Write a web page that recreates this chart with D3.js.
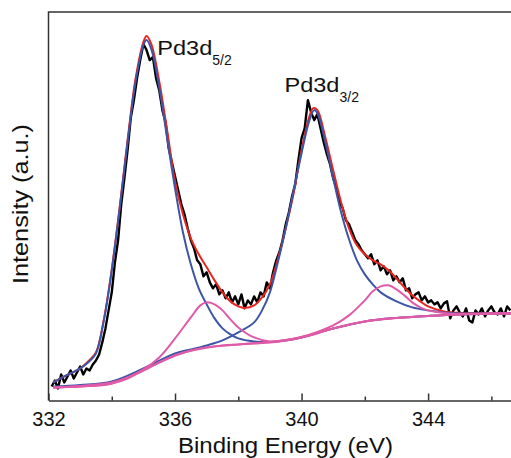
<!DOCTYPE html>
<html>
<head>
<meta charset="utf-8">
<script src="https://cdn.jsdelivr.net/npm/d3@7"></script>
<style>
  html, body { margin: 0; padding: 0; background: #fff; }
  svg { display: block; }
  text { font-family: "Liberation Sans", Arial, Helvetica, sans-serif; fill: #111; }
</style>
</head>
<body>
<svg id="chart" width="511" height="458"></svg>
<script>
// ---------------- DATA ----------------
const majorTicks = [332, 336, 340, 344];
const minorTicks = [334, 338, 342, 346];
const xTitle = "Binding Energy (eV)";
const yTitle = "Intensity (a.u.)";

// measured spectrum (black), sampled every 0.1 eV from 332.1 eV
const measStart = 332.1, measStep = 0.1;
const measured = [
  14, 20, 12, 26, 18, 24, 30, 22, 28, 34,
  26, 32, 30, 36, 40, 46, 58, 72, 90, 108,
  138, 160, 196, 222, 250, 282, 300, 322, 340, 356,
  350, 340, 343, 322, 310, 290, 278, 252, 238, 224,
  210, 196, 186, 172, 160, 152, 140, 136, 124, 128,
  118, 112, 116, 106, 110, 102, 108, 98, 104, 96,
  106, 92, 100, 96, 104, 98, 108, 104, 118, 112,
  128, 140, 148, 160, 176, 188, 204, 216, 240, 262,
  272, 300, 288, 280, 286, 272, 258, 246, 236, 222,
  212, 198, 192, 180, 176, 168, 160, 156, 150, 146,
  142, 146, 136, 140, 130, 134, 126, 130, 120, 124,
  118, 122, 110, 112, 102, 106, 108, 100, 104, 98,
  100, 96, 98, 92, 97, 99, 82, 90, 94, 88,
  84, 92, 80, 78, 90, 86, 92, 84, 90, 94,
  88, 86, 92, 84, 94, 90
];

// fitted components: [binding energy, intensity]
const shirleyBackground = [
  [332.15,13],[332.5,13.5],[333,14],[333.5,15],[334,17],[334.5,22],[335,30],[335.5,38],
  [336,45],[336.5,50],[337,53],[337.5,55],[338,56],[338.5,57],[339,58],[339.5,60],
  [340,63],[340.5,67],[341,72],[341.5,76],[342,79],[342.5,81],[343,82.5],[343.5,83.5],
  [344,84.5],[345,86],[346,86.8],[346.7,87]
];
const satellite1 = [
  [332.15,13],[333,14.5],[334,18],[334.5,23],[335,31],[335.5,43],[336,62],[336.5,83],
  [336.8,95],[337,98],[337.25,96],[337.5,90],[337.75,81],[338,73],[338.5,63],[339,59],
  [339.5,60.5],[340,63.5],[341,72],[342,79],[343,82.5],[344,84.5],[345,86],[346.7,87]
];
const satellite2 = [
  [332.15,13],[333,14],[334,17],[335,30],[336,45],[337,53],[338,56],[339,58.5],
  [339.5,60.5],[340,63.5],[340.5,68.5],[341,75],[341.5,85],[342,100],[342.25,109],
  [342.5,114],[342.75,115],[343,111],[343.25,105],[343.5,98],[343.75,93],[344,90],
  [344.5,87.5],[345,86.5],[346,87],[346.7,87.2]
];
const peak52 = [
  [332.15,18],[332.5,24],[333,32],[333.25,38],[333.5,47],[333.75,80],[334,130],[334.25,192],
  [334.5,258],[334.75,318],[335,355],[335.1,360],[335.25,351],[335.5,313],[335.75,262],
  [336,212],[336.25,168],[336.5,136],[336.75,112],[337,96],[337.25,82],[337.5,72],
  [337.75,66],[338,62],[338.5,59],[339,58.5],[339.5,60],[340,63],[341,72],[342,79],
  [343,82.5],[344,84.5],[345,86],[346.7,87]
];
const peak32 = [
  [332.15,14],[333,15.5],[334,19],[335,32],[336,47],[336.5,51],[337,55],[337.5,60],
  [338,68],[338.5,78],[338.75,90],[339,108],[339.25,138],[339.5,172],[339.75,210],
  [340,247],[340.25,280],[340.4,290],[340.5,287],[340.75,258],[341,222],[341.25,188],
  [341.5,161],[341.75,140],[342,126],[342.25,116],[342.5,108],[343,99],[343.5,93],
  [344,90],[344.5,88],[345,87],[346,87],[346.7,87.2]
];
const envelope = [
  [332.15,18],[332.5,24],[333,32],[333.25,39],[333.5,48],[333.75,81],[334,131],[334.25,193],
  [334.5,260],[334.75,321],[335,358],[335.1,364],[335.25,356],[335.5,319],[335.75,270],
  [336,219],[336.25,186],[336.5,162],[336.75,146],[337,133],[337.25,120],[337.5,108],
  [337.75,99],[338,94],[338.2,92.5],[338.5,95],[338.75,103],[339,116],[339.25,141],
  [339.5,172],[339.75,207],[340,250],[340.25,284],[340.37,292],[340.5,290],[340.75,263],
  [341,230],[341.25,198],[341.5,172],[341.75,155],[342,146],[342.25,140],[342.5,136],
  [342.75,130],[343,122],[343.25,113],[343.5,105],[343.75,99],[344,94],[344.5,89],
  [345,87.5],[346,87.2],[346.7,87.2]
];
const peakLabels = [
  { main: "Pd3d", sub: "5/2", e: 335.44, i: 345 },
  { main: "Pd3d", sub: "3/2", e: 339.46, i: 308 }
];

// ---------------- CHART ----------------
(function () {
const svg = d3.select("#chart");
const mLeft = 48.5, mBottom = 400.5, mTop = 12, mRight = 513.5;

const x = d3.scaleLinear().domain([332, 346.7]).range([mLeft, mRight]);
const y = d3.scaleLinear().domain([0, 388]).range([mBottom, mTop]);

svg.append("defs").append("clipPath").attr("id", "plotclip")
  .append("rect").attr("x", mLeft).attr("y", mTop).attr("width", mRight - mLeft).attr("height", mBottom - mTop);

const plot = svg.append("g").attr("clip-path", "url(#plotclip)");

const measuredPts = measured.map((v, k) => [measStart + k * measStep, v]);

const straight = d3.line().x(d => x(d[0])).y(d => y(d[1]));
const smooth = d3.line().x(d => x(d[0])).y(d => y(d[1])).curve(d3.curveCatmullRom.alpha(0.5));

plot.append("path").datum(measuredPts).attr("d", straight)
  .attr("fill", "none").attr("stroke", "#000").attr("stroke-width", 2.4).attr("stroke-linejoin", "round");

const blue = "#3c55a5", red = "#e8261f", pink = "#e05aa8";
plot.append("path").datum(envelope).attr("d", smooth)
  .attr("fill", "none").attr("stroke", red).attr("stroke-width", 2);
[peak52, peak32].forEach(p => plot.append("path").datum(p).attr("d", smooth)
  .attr("fill", "none").attr("stroke", blue).attr("stroke-width", 2));
[shirleyBackground, satellite1, satellite2].forEach(p => plot.append("path").datum(p).attr("d", smooth)
  .attr("fill", "none").attr("stroke", pink).attr("stroke-width", 2));

// frame: top, left (bottom drawn by axis)
svg.append("path")
  .attr("d", `M${mRight},${mTop}H${mLeft}V${mBottom}`)
  .attr("fill", "none").attr("stroke", "#333").attr("stroke-width", 1.5);

const xAxis = svg.append("g").attr("transform", `translate(0,${mBottom})`)
  .call(d3.axisBottom(x).tickValues(majorTicks).tickSizeInner(-7).tickSizeOuter(0).tickPadding(11).tickFormat(d3.format("d")));
xAxis.select(".domain").attr("stroke", "#333").attr("stroke-width", 1.5);
xAxis.selectAll(".tick line").attr("stroke", "#333").attr("stroke-width", 1.5);
xAxis.selectAll("text").attr("font-size", 20).attr("fill", "#111")
  .style("font-family", '"Liberation Sans", Arial, sans-serif');

const xMinor = svg.append("g").attr("transform", `translate(0,${mBottom})`)
  .call(d3.axisBottom(x).tickValues(minorTicks).tickSizeInner(-4).tickSizeOuter(0).tickFormat(""));
xMinor.select(".domain").remove();
xMinor.selectAll(".tick line").attr("stroke", "#333").attr("stroke-width", 1.5);

svg.append("text").attr("x", 285.5).attr("y", 453).attr("text-anchor", "middle")
  .attr("font-size", 22).attr("textLength", 215).attr("lengthAdjust", "spacingAndGlyphs").text(xTitle);

svg.append("text").attr("transform", "translate(28,204) rotate(-90)").attr("text-anchor", "middle")
  .attr("font-size", 22).attr("textLength", 160).attr("lengthAdjust", "spacingAndGlyphs").text(yTitle);

peakLabels.forEach(l => {
  const t = svg.append("text").attr("x", x(l.e)).attr("y", y(l.i)).attr("font-size", 21);
  t.append("tspan").text(l.main).attr("textLength", 55).attr("lengthAdjust", "spacingAndGlyphs");
  t.append("tspan").attr("dy", 10).attr("font-size", 14).text(l.sub);
});
})();
</script>
</body>
</html>
